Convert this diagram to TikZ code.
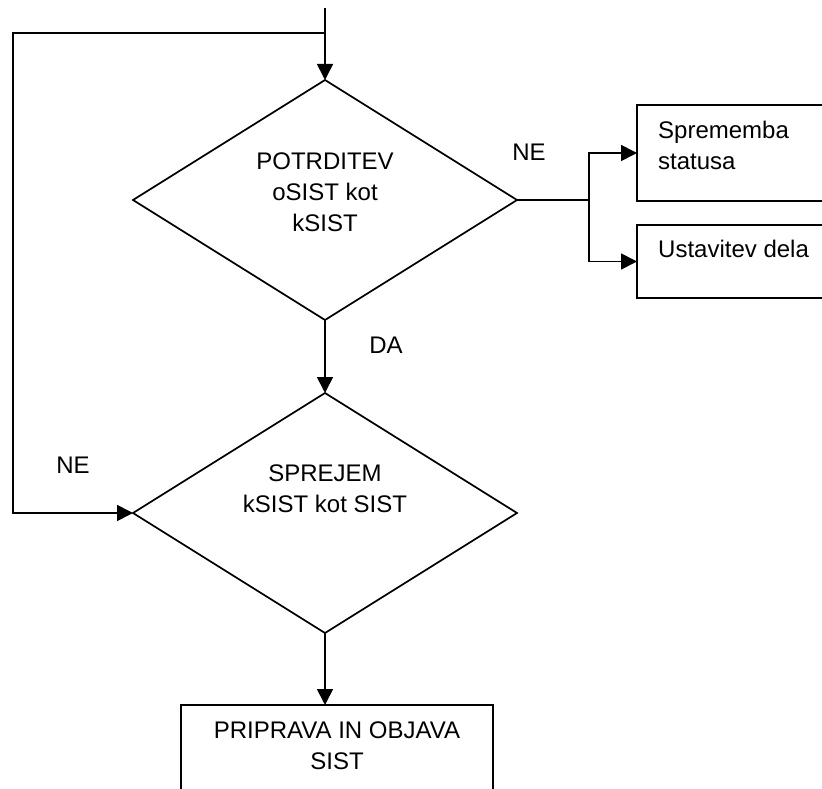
\documentclass[tikz,border=0pt]{standalone}
\usepackage{fontspec}
\setmainfont{Liberation Sans}
\usetikzlibrary{shapes.geometric,arrows.meta}
\begin{document}
\begin{tikzpicture}[x=1pt,y=-1pt,
  line/.style={line width=1.7pt},
  arr/.style={line width=1.7pt, -{Triangle[length=16pt,width=16pt]}},
  dec/.style={diamond, draw, line width=1.7pt, minimum width=384pt, minimum height=240pt, inner sep=0pt, outer sep=0pt, aspect=1.6},
  box/.style={rectangle, draw, line width=1.7pt, inner sep=0pt, outer sep=0pt},
  txt/.style={font=\fontsize{24}{31}\selectfont, inner sep=0pt, align=center, anchor=base}
]
\clip (0,0) rectangle (822,789);
% shapes
\node[dec] (d1) at (325,200) {};
\node[dec] (d2) at (325,513) {};
\node[box, minimum width=263pt, minimum height=96pt] (b1) at (768.5,153) {};
\node[box, minimum width=263pt, minimum height=73pt] (b2) at (768.5,261.5) {};
\node[box, minimum width=312pt, minimum height=115pt] (b3) at (337,762.5) {};
% texts (base = baseline of the last line)
\node[txt] (t1) at (325,231.7) {POTRDITEV\\oSIST kot\\kSIST};
\node[txt] (t2) at (325,512.7) {SPREJEM\\kSIST kot SIST};
\node[txt] (t3) at (337,769.3) {PRIPRAVA IN OBJAVA\\SIST};
\node[txt, align=left, anchor=base west] (t4) at (658,169) {Sprememba\\statusa};
\node[txt, anchor=base west] (t5) at (658,257.3) {Ustavitev dela};
\node[txt] (ne1) at (529,160.7) {NE};
\node[txt] (ne2) at (73,473.3) {NE};
\node[txt] (da) at (386,353.3) {DA};
% connectors
\coordinate (top) at (325,8);
\coordinate (lp) at (325,33);
\coordinate (lc) at (13,33);
\coordinate (br) at (589,200);
\draw[arr] (top) -- (d1.north);
\draw[arr] (lp) -- (lc) |- (d2.west);
\draw[arr] (d1.south) -- (d2.north);
\draw[arr] (d2.south) -- (d2.south |- b3.north);
\draw[line] (d1.east) -- (br);
\draw[arr] (br) |- (b1.west);
\draw[arr] (br) |- (b2.west);
\end{tikzpicture}
\end{document}
